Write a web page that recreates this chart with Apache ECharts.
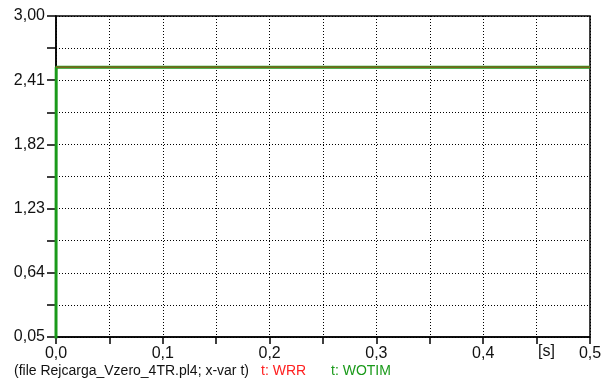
<!DOCTYPE html>
<html><head><meta charset="utf-8">
<script src="https://cdn.jsdelivr.net/npm/echarts@6/dist/echarts.min.js"></script>
<style>html,body{margin:0;padding:0;background:#fff}#c{width:608px;height:385px}</style>
</head><body><div id="c"></div>
<script>
var timeWRR = [0, 0.5];
var valuesWRR = [2.53, 2.53];
var timeWOTIM = [0, 0.0002, 0.5];
var valuesWOTIM = [0, 2.53, 2.53];
var yMin = 0.05, yMax = 3.00, yStep = 0.295;
var xMin = 0, xMax = 0.5, xStep = 0.05;

function pairs(t, v){ return t.map(function(x,i){return [x, v[i]];}); }
var FONT = 'Liberation Sans, Arial, sans-serif';
var chart = echarts.init(document.getElementById('c'));
chart.setOption({
  animation:false,
  backgroundColor:'#fff',
  grid:{left:56,right:18,top:16,bottom:48,show:true,borderColor:'#000',borderWidth:1.5},
  xAxis:{type:'value',min:xMin,max:xMax,interval:xStep,
    axisLine:{show:true,lineStyle:{color:'#000',width:1.5}},
    axisTick:{show:true,length:7,lineStyle:{color:'#000',width:1.5}},
    splitLine:{show:true,lineStyle:{color:'#000',type:[1,2],width:1}},
    axisLabel:{margin:9,color:'#111',fontFamily:FONT,fontSize:16,
      formatter:function(v){var k=Math.round(v/xStep); if(k%2) return ''; return v.toFixed(1).replace('.',',');}}
  },
  yAxis:{type:'value',min:yMin,max:yMax,interval:yStep,
    axisLine:{show:true,lineStyle:{color:'#000',width:1.5}},
    axisTick:{show:true,length:9,lineStyle:{color:'#000',width:1.5}},
    splitLine:{show:true,lineStyle:{color:'#000',type:[1,2],width:1}},
    axisLabel:{margin:11,color:'#111',fontFamily:FONT,fontSize:16,
      formatter:function(v){var k=Math.round((v-yMin)/yStep); if(k%2) return ''; return v.toFixed(2).replace('.',',');}}
  },
  series:[
    {name:'t: WOTIM',type:'line',showSymbol:false,data:pairs(timeWOTIM,valuesWOTIM),
      lineStyle:{color:'#1a9a1a',width:3},itemStyle:{color:'#1a9a1a'},z:2},
    {name:'t: WRR',type:'line',showSymbol:false,data:pairs(timeWRR,valuesWRR),
      lineStyle:{color:'#ff2020',width:1.2,opacity:0.55},itemStyle:{color:'#ff2020'},z:3}
  ],
  graphic:[
    {type:'text',left:538,top:344,style:{text:'[s]',font:'16px '+FONT,fill:'#111'}},
    {type:'text',left:14,top:364,style:{text:'(file Rejcarga_Vzero_4TR.pl4; x-var t)',font:'14px '+FONT,fill:'#111'}},
    {type:'text',left:261,top:364,style:{text:'t: WRR',font:'14px '+FONT,fill:'#ff2020'}},
    {type:'text',left:331,top:364,style:{text:'t: WOTIM',font:'14px '+FONT,fill:'#1a9a1a'}}
  ]
});
</script></body></html>
